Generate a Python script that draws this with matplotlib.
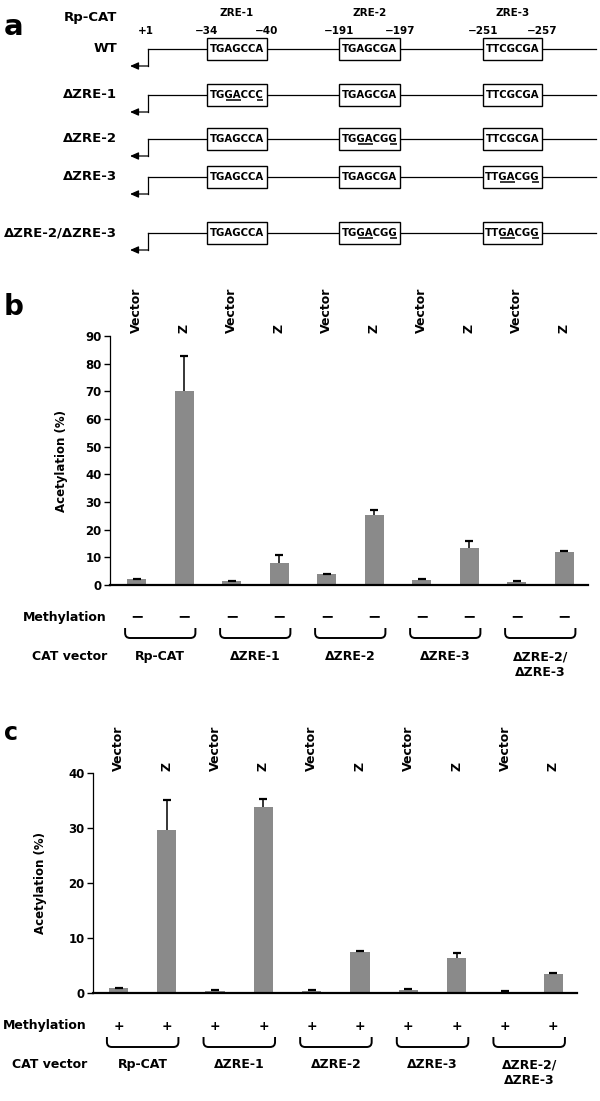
import numpy as np
import matplotlib
matplotlib.use("Agg")
import matplotlib.pyplot as plt
import matplotlib.transforms as mtransforms
from matplotlib.patches import Rectangle, PathPatch
from matplotlib.path import Path
from matplotlib.font_manager import FontProperties

# --- Style ---
plt.rcParams.update({
    "font.family": ["DejaVu Sans"],
    "font.weight": "bold",
    "axes.labelweight": "bold",
})

W, H = 600, 1101
BAR = "#8a8a8a"

# --- Data: panel a (promoter constructs) ---
constructs = ["WT", "ΔZRE-1", "ΔZRE-2", "ΔZRE-3", "ΔZRE-2/ΔZRE-3"]
site_names = ["ZRE-1", "ZRE-2", "ZRE-3"]
site_starts = ["−34", "−191", "−251"]
site_ends = ["−40", "−197", "−257"]
wt_seqs = ["TGAGCCA", "TGAGCGA", "TTCGCGA"]
mut_seqs = ["TGGACCC", "TGGACGG", "TTGACGG"]
mutated_sites = [[], [0], [1], [2], [1, 2]]
underlined = [[2, 3], [6]]  # runs of changed letters in a mutant site

# --- Data: panels b and c ---
groups = ["Rp-CAT", "ΔZRE-1", "ΔZRE-2", "ΔZRE-3", "ΔZRE-2/\nΔZRE-3"]
effectors = ["Vector", "Z"] * 5
b_acet = [2.0, 70.3, 1.4, 8.1, 3.9, 25.2, 1.9, 13.3, 1.1, 11.9]
b_err = [0.2, 12.3, 0.2, 2.6, 0.2, 2.0, 0.2, 2.5, 0.2, 0.3]
c_acet = [0.9, 29.6, 0.45, 33.9, 0.4, 7.4, 0.6, 6.4, 0.25, 3.45]
c_err = [0.1, 5.5, 0.1, 1.3, 0.1, 0.15, 0.1, 0.8, 0.05, 0.1]
b_meth = "−"
c_meth = "+"


def px_rect(left, top, right, bottom):
    return [left / W, 1 - bottom / H, (right - left) / W, (bottom - top) / H]


def fy(py):
    return 1 - py / H


fig = plt.figure(figsize=(6, 11.01), dpi=100)
bg = fig.add_axes([0, 0, 1, 1])
bg.set_xlim(0, W)
bg.set_ylim(H, 0)
bg.axis("off")
renderer = fig.canvas.get_renderer()

# --- Panel a ---
row_y = [49, 95, 139, 177, 233]
box_x = [(207, 267), (339, 400), (483, 542)]
line_x0, line_x1 = 148, 596
seq_prop = FontProperties(family="DejaVu Sans", weight="bold", size=7.3)


def text_w(s):
    if not s:
        return 0
    return renderer.get_text_width_height_descent(s, seq_prop, ismath=False)[0]


bg.text(4, 27, "a", fontsize=21, ha="left", va="center")
bg.text(117, 18, "Rp-CAT", fontsize=9.5, ha="right", va="center")
bg.text(146, 31, "+1", fontsize=7.5, ha="center", va="center")
for (x0, x1), name, s0, s1 in zip(box_x, site_names, site_starts, site_ends):
    bg.text((x0 + x1) / 2, 13, name, fontsize=7.5, ha="center", va="center")
    bg.text(x0, 31, s0, fontsize=7.5, ha="center", va="center")
    bg.text(x1, 31, s1, fontsize=7.5, ha="center", va="center")

for y, label, muts in zip(row_y, constructs, mutated_sites):
    bg.text(117, y, label, fontsize=9.5, ha="right", va="center")
    bg.plot([line_x0, line_x1], [y, y], color="black", lw=0.9, zorder=1)
    bg.plot([line_x0, line_x0], [y, y + 17], color="black", lw=0.9, zorder=1)
    bg.annotate("", xy=(130, y + 17), xytext=(line_x0 + 0.5, y + 17),
                arrowprops=dict(arrowstyle="-|>,head_length=0.5,head_width=0.22",
                                color="black", lw=0.9, shrinkA=0, shrinkB=0))
    for k, (x0, x1) in enumerate(box_x):
        bg.add_patch(Rectangle((x0, y - 11), x1 - x0, 22, facecolor="white",
                               edgecolor="black", lw=1.0, zorder=2))
        seq = mut_seqs[k] if k in muts else wt_seqs[k]
        cx = (x0 + x1) / 2
        bg.text(cx, y, seq, fontproperties=seq_prop, ha="center", va="center", zorder=3)
        if k in muts:
            left = cx - text_w(seq) / 2
            for run in underlined:
                a = text_w(seq[:run[0]])
                b = text_w(seq[:run[-1] + 1])
                bg.plot([left + a + 0.5, left + b - 0.5], [y + 4.8, y + 4.8],
                        color="black", lw=1.1, zorder=3, solid_capstyle="butt")


# --- Panels b and c ---
def bar_panel(rect, xlim, vals, errs, ymax, sign, sign_size, letter, rows,
              label_right, ylab_x):
    ax = fig.add_axes(px_rect(*rect))
    x = np.arange(len(vals))
    ax.bar(x, vals, width=0.4, color=BAR, zorder=2)
    eb = ax.errorbar(x, vals, yerr=[np.zeros(len(errs)), errs], fmt="none",
                     ecolor="black", elinewidth=1.1, capsize=3.2, capthick=1.6, zorder=3)
    eb[1][0].remove()  # only the upper caps
    ax.set_xlim(*xlim)
    ax.set_ylim(0, ymax)
    ax.set_yticks(np.arange(0, ymax + 1, 10))
    ax.set_xticks([])
    ax.tick_params(axis="y", direction="out", length=4, width=1, labelsize=8.5, pad=2)
    for t in ax.get_yticklabels():
        t.set_fontweight("bold")
    for side in ["top", "right"]:
        ax.spines[side].set_visible(False)
    ax.spines["left"].set_linewidth(0.9)
    ax.spines["bottom"].set_linewidth(1.6)
    ax.set_ylabel("Acetylation (%)", fontsize=8.5, fontweight="bold")
    ax.yaxis.set_label_coords(ylab_x, 0.5)

    spacing = (rect[2] - rect[0]) / (xlim[1] - xlim[0])
    rx = 5 / spacing
    tr = mtransforms.blended_transform_factory(ax.transData, fig.transFigure)
    for i, lab in zip(x, effectors):
        ax.text(i, fy(rows["eff"]), lab, transform=tr, rotation=90,
                ha="center", va="bottom", fontsize=9)
        ax.text(i, fy(rows["meth"]), sign, transform=tr, ha="center",
                va="center", fontsize=sign_size)
    ext = 0.24
    for g, name in enumerate(groups):
        x0, x1 = 2 * g - ext, 2 * g + 1 + ext
        yt, yb, yr = fy(rows["brace"][0]), fy(rows["brace"][1]), fy(rows["brace"][1] - 5)
        verts = [(x0, yt), (x0, yr), (x0, yb), (x0 + rx, yb), (x1 - rx, yb),
                 (x1, yb), (x1, yr), (x1, yt)]
        codes = [Path.MOVETO, Path.LINETO, Path.CURVE3, Path.CURVE3,
                 Path.LINETO, Path.CURVE3, Path.CURVE3, Path.LINETO]
        ax.add_patch(PathPatch(Path(verts, codes), transform=tr, fill=False,
                               lw=1.4, edgecolor="black", clip_on=False))
        ax.text(2 * g + 0.5, fy(rows["cat"] - 7), name, transform=tr, ha="center",
                va="top", fontsize=9, linespacing=1.35)

    bg.text(4, rows["letter"], letter, fontsize=rows["lsize"], ha="left", va="center")
    bg.text(label_right, rows["meth"], "Methylation", fontsize=9, ha="right", va="center")
    bg.text(label_right, rows["cat"], "CAT vector", fontsize=9, ha="right", va="center")
    return ax


bar_panel((110, 336, 588, 585), (-0.558, 9.505), b_acet, b_err, 90, b_meth, 11.5, "b",
          dict(eff=333, meth=617, brace=(628, 638), cat=657, letter=307, lsize=20),
          107, -0.088)
bar_panel((93, 773, 577, 993), (-0.528, 9.49), c_acet, c_err, 40, c_meth, 9, "c",
          dict(eff=771, meth=1026, brace=(1037, 1047), cat=1065, letter=733, lsize=17),
          87, -0.095)

plt.savefig("out.png", dpi=100)
